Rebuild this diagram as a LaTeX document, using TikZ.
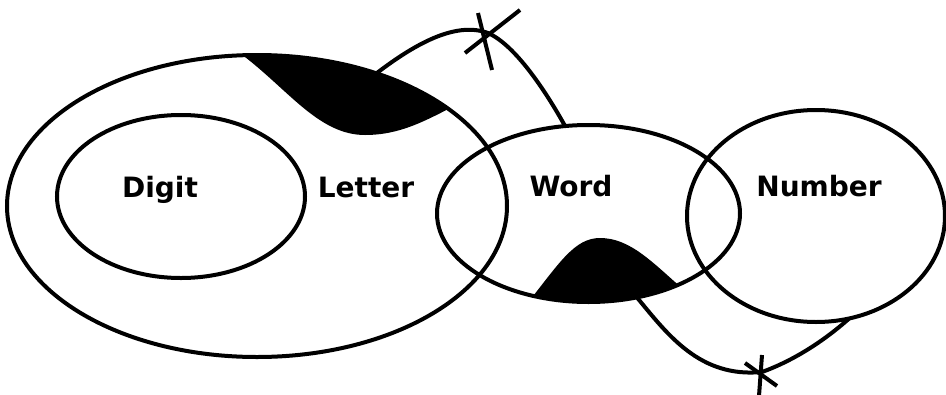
\documentclass[tikz,border=0pt]{standalone}
\usepackage{fontspec}
\setmainfont{DejaVu Sans}
\usetikzlibrary{shapes.geometric}

\tikzset{
  set/.style={draw, ellipse, line width=4pt, inner sep=0pt, outer sep=0pt},
  lbl/.style={font=\bfseries\fontsize{28}{30}\selectfont, anchor=base},
  wire/.style={line width=4pt}
}

\begin{document}
\begin{tikzpicture}[x=1pt, y=-1pt]
    \useasboundingbox (0,0) rectangle (946,394);
    \begin{scope}
      \clip (257,206) ellipse [x radius=250pt, y radius=151pt];
      \fill (245,57) .. controls (290,92) and (320,135) .. (365,135)
        .. controls (400,135) and (425,121) .. (458,104) -- (458,30) -- (235,30) -- cycle;
    \end{scope}
    \begin{scope}
      \clip (588.5,213.5) ellipse [x radius=151.5pt, y radius=88.5pt];
      \fill (530,300) .. controls (560,262) and (575,238) .. (600,238)
        .. controls (630,238) and (652,262) .. (684,290) -- (684,330) -- (530,330) -- cycle;
    \end{scope}
    \node[set, minimum width=500pt, minimum height=302pt] (letter) at (257,206) {};
    \node[set, minimum width=248pt, minimum height=163pt] (digit) at (181,196.5) {};
    \node[set, minimum width=303pt, minimum height=177pt] (word) at (588.5,213.5) {};
    \node[set, minimum width=258pt, minimum height=212pt] (number) at (816,216) {};
    \node[lbl] (digitlbl) at (160,197) {Digit};
    \node[lbl] (letterlbl) at (366,197) {Letter};
    \node[lbl] (wordlbl) at (571,196) {Word};
    \node[lbl] (numberlbl) at (819,196) {Number};
    \coordinate (cutA) at (488,33);
    \coordinate (cutB) at (762,372);
    \draw[wire] (letter.48) .. controls (420,40) and (458,22) .. (cutA)
      .. controls (515,45) and (545,90) .. (word.105);
    \draw[wire] ([shift={(-10,-20)}]cutA) -- ([shift={(4,37)}]cutA);
    \draw[wire] ([shift={(32,-23)}]cutA) -- ([shift={(-23,20)}]cutA);
    \draw[wire] (word.300) .. controls (668,335) and (700,378) .. (cutB)
      .. controls (795,360) and (825,340) .. (number.288);
    \draw[wire] ([shift={(0,-17)}]cutB) -- ([shift={(-3,24)}]cutB);
    \draw[wire] ([shift={(-17,-9)}]cutB) -- ([shift={(15,14)}]cutB);
\end{tikzpicture}
\end{document}
